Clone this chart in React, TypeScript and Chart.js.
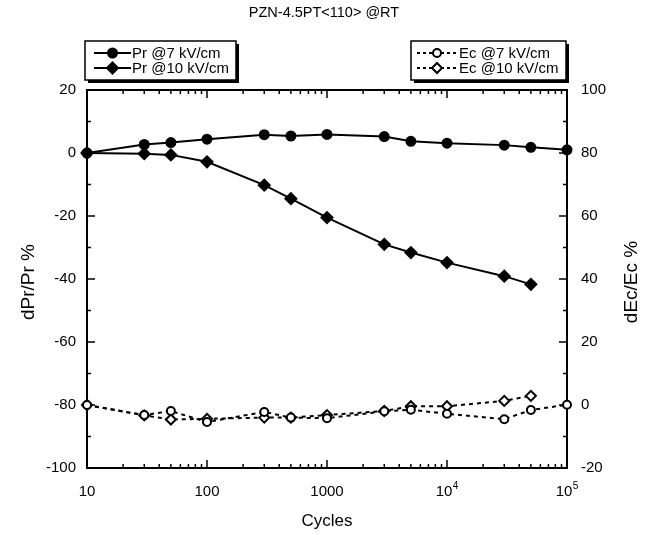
import React, { useEffect, useRef } from 'react';
import { Chart, registerables } from 'chart.js';

Chart.register(...registerables);

const FONT = "'Liberation Sans', Arial, Helvetica, sans-serif";

const cycles7 = [10, 30, 50, 100, 300, 500, 1000, 3000, 5000, 10000, 30000, 50000, 100000];
const cycles10 = [10, 30, 50, 100, 300, 500, 1000, 3000, 5000, 10000, 30000, 50000];
const pr7 = [0, 2.7, 3.3, 4.4, 5.8, 5.4, 5.9, 5.2, 3.7, 3.1, 2.5, 1.8, 1.0];
const pr10 = [0, -0.2, -0.6, -2.8, -10.2, -14.5, -20.5, -29.0, -31.6, -34.8, -39.1, -41.7];
const ec7 = [0, -3.2, -1.9, -5.4, -2.2, -4.0, -4.2, -2.0, -1.5, -2.8, -4.5, -1.6, 0.1];
const ec10 = [0, -3.3, -4.6, -4.4, -4.0, -4.0, -3.2, -1.9, -0.4, -0.4, 1.3, 2.9];
const xTicks = [10, 100, 1000, 10000, 100000];
const xTickBase = ['10', '100', '1000', '10', '10'];
const xTickExp = ['', '', '', '4', '5'];

const title = 'PZN-4.5PT<110> @RT';
const xTitle = 'Cycles';
const yTitle = 'dPr/Pr %';
const y2Title = 'dEc/Ec %';

const pts = (xs: number[], ys: number[]) => ys.map((v, i) => ({ x: xs[i], y: v }));

function drawMarker(ctx: CanvasRenderingContext2D, style: string, filled: boolean, x: number, y: number) {
  ctx.beginPath();
  if (style === 'circle') {
    const r = filled ? 4.5 : 4;
    ctx.arc(x, y, r, 0, Math.PI * 2);
  } else {
    const r = filled ? 5.5 : 5;
    ctx.moveTo(x, y - r);
    ctx.lineTo(x + r, y);
    ctx.lineTo(x, y + r);
    ctx.lineTo(x - r, y);
    ctx.closePath();
  }
  ctx.setLineDash([]);
  ctx.lineWidth = 2;
  ctx.fillStyle = filled ? '#000' : '#fff';
  ctx.fill();
  ctx.strokeStyle = '#000';
  ctx.stroke();
}

const decoPlugin = {
  id: 'deco',
  beforeDatasetsDraw(chart: any) {
    const { ctx, chartArea: a, scales } = chart;
    const x = scales.x, y = scales.y, y2 = scales.y2;
    ctx.save();
    ctx.strokeStyle = '#000';
    ctx.lineWidth = 2;
    ctx.setLineDash([]);
    ctx.strokeRect(a.left, a.top, a.right - a.left, a.bottom - a.top);
    ctx.lineWidth = 1.5;
    const seg = (x1: number, y1: number, x2: number, y2_: number) => {
      ctx.beginPath();
      ctx.moveTo(x1, y1);
      ctx.lineTo(x2, y2_);
      ctx.stroke();
    };
    for (let e = 1; e < 5; e++) {
      for (let m = 1; m < 10; m++) {
        const px = x.getPixelForValue(m * Math.pow(10, e));
        const L = m === 1 ? 8 : 4;
        seg(px, a.bottom, px, a.bottom - L);
        seg(px, a.top, px, a.top + L);
      }
    }
    for (let v = -100; v <= 20; v += 10) {
      const py = y.getPixelForValue(v);
      const L = v % 20 === 0 ? 8 : 4;
      seg(a.left, py, a.left + L, py);
    }
    for (let v = -20; v <= 100; v += 10) {
      const py = y2.getPixelForValue(v);
      const L = v % 20 === 0 ? 8 : 4;
      seg(a.right, py, a.right - L, py);
    }
    ctx.restore();
  },
  afterDraw(chart: any) {
    const { ctx, chartArea: a, data, scales } = chart;
    const cx = (a.left + a.right) / 2;
    ctx.save();
    ctx.fillStyle = '#000';
    ctx.textBaseline = 'middle';
    ctx.textAlign = 'center';
    ctx.font = `14.5px ${FONT}`;
    ctx.fillText(title, cx - 3, 13);
    ctx.font = `17px ${FONT}`;
    ctx.fillText(xTitle, cx, 521);
    ctx.font = `19px ${FONT}`;
    ctx.save();
    ctx.translate(29, 282);
    ctx.rotate(-Math.PI / 2);
    ctx.fillText(yTitle, 0, 0);
    ctx.restore();
    ctx.save();
    ctx.translate(632, 282);
    ctx.rotate(-Math.PI / 2);
    ctx.fillText(y2Title, 0, 0);
    ctx.restore();

    // x tick labels (with superscript exponents)
    ctx.textAlign = 'left';
    xTicks.forEach((v, i) => {
      const px = scales.x.getPixelForValue(v);
      ctx.font = `15px ${FONT}`;
      const wb = ctx.measureText(xTickBase[i]).width;
      ctx.font = `10px ${FONT}`;
      const we = xTickExp[i] ? ctx.measureText(xTickExp[i]).width + 0.5 : 0;
      const x0 = px - (wb + we) / 2;
      const cy = a.bottom + 24;
      ctx.font = `15px ${FONT}`;
      ctx.fillText(xTickBase[i], x0, cy);
      if (xTickExp[i]) {
        ctx.font = `10px ${FONT}`;
        ctx.fillText(xTickExp[i], x0 + wb + 0.5, cy - 6);
      }
    });

    const box = (bx: number, by: number, bw: number, bh: number) => {
      ctx.setLineDash([]);
      ctx.fillStyle = '#000';
      ctx.fillRect(bx + 3, by + 3, bw, bh);
      ctx.fillStyle = '#fff';
      ctx.fillRect(bx, by, bw, bh);
      ctx.strokeStyle = '#000';
      ctx.lineWidth = 1.5;
      ctx.strokeRect(bx, by, bw, bh);
    };
    box(85, 41, 151, 39);
    box(411, 41, 155, 39);

    ctx.font = `15px ${FONT}`;
    ctx.textAlign = 'left';
    const entries = [
      { ds: data.datasets[0], x0: 94, x1: 131, tx: 132, y: 53 },
      { ds: data.datasets[1], x0: 94, x1: 131, tx: 132, y: 68 },
      { ds: data.datasets[2], x0: 417, x1: 457, tx: 459, y: 53 },
      { ds: data.datasets[3], x0: 417, x1: 457, tx: 459, y: 68 },
    ];
    for (const e of entries) {
      ctx.strokeStyle = '#000';
      ctx.lineWidth = 2;
      ctx.setLineDash(e.ds.borderDash ? [3, 3] : []);
      ctx.beginPath();
      ctx.moveTo(e.x0, e.y);
      ctx.lineTo(e.x1, e.y);
      ctx.stroke();
      const filled = e.ds.pointBackgroundColor === '#000';
      drawMarker(ctx, e.ds.pointStyle === 'circle' ? 'circle' : 'diamond', filled, (e.x0 + e.x1) / 2, e.y);
      ctx.fillStyle = '#000';
      ctx.fillText(e.ds.label, e.tx, e.y + 1);
    }
    ctx.restore();
  },
};

export default function App() {
  const ref = useRef<HTMLCanvasElement | null>(null);
  useEffect(() => {
    if (!ref.current) return;
    const common = {
      borderColor: '#000',
      borderWidth: 2,
      pointBorderColor: '#000',
      pointBorderWidth: 2,
      tension: 0,
      clip: false as any,
    };
    const chart = new Chart(ref.current, {
      type: 'line',
      data: {
        datasets: [
          { ...common, label: 'Pr @7 kV/cm', data: pts(cycles7, pr7), yAxisID: 'y', pointStyle: 'circle', pointRadius: 4.5, pointBackgroundColor: '#000' },
          { ...common, label: 'Pr @10 kV/cm', data: pts(cycles10, pr10), yAxisID: 'y', pointStyle: 'rectRot', pointRadius: 5.5, pointBackgroundColor: '#000' },
          { ...common, label: 'Ec @7 kV/cm', data: pts(cycles7, ec7), yAxisID: 'y2', borderDash: [4, 4], pointStyle: 'circle', pointRadius: 4, pointBackgroundColor: '#fff' },
          { ...common, label: 'Ec @10 kV/cm', data: pts(cycles10, ec10), yAxisID: 'y2', borderDash: [4, 4], pointStyle: 'rectRot', pointRadius: 5, pointBackgroundColor: '#fff' },
        ],
      } as any,
      options: {
        animation: false,
        responsive: false,
        maintainAspectRatio: false,
        layout: { padding: { top: 90, left: 0, right: 0, bottom: 0 } },
        plugins: { legend: { display: false }, title: { display: false }, tooltip: { enabled: false } },
        scales: {
          x: {
            type: 'logarithmic',
            min: 10,
            max: 100000,
            border: { display: false },
            grid: { display: false },
            afterBuildTicks: (s: any) => { s.ticks = xTicks.map((v) => ({ value: v, major: true })); },
            afterFit: (s: any) => { s.height = 67; },
            ticks: { display: false },
          },
          y: {
            position: 'left',
            min: -100,
            max: 20,
            border: { display: false },
            grid: { display: false },
            afterFit: (s: any) => { s.width = 87; },
            ticks: { stepSize: 20, padding: 3, color: '#000', font: { family: FONT, size: 15 } },
          },
          y2: {
            position: 'right',
            min: -20,
            max: 100,
            border: { display: false },
            grid: { display: false },
            afterFit: (s: any) => { s.width = 83; },
            ticks: { stepSize: 20, padding: 6, color: '#000', font: { family: FONT, size: 15 } },
          },
        },
      } as any,
      plugins: [decoPlugin],
    });
    return () => chart.destroy();
  }, []);
  return (
    <div style={{ position: 'fixed', left: 0, top: 0, width: 650, height: 535, background: '#fff' }}>
      <canvas ref={ref} width={650} height={535} style={{ width: 650, height: 535, display: 'block' }} />
    </div>
  );
}
